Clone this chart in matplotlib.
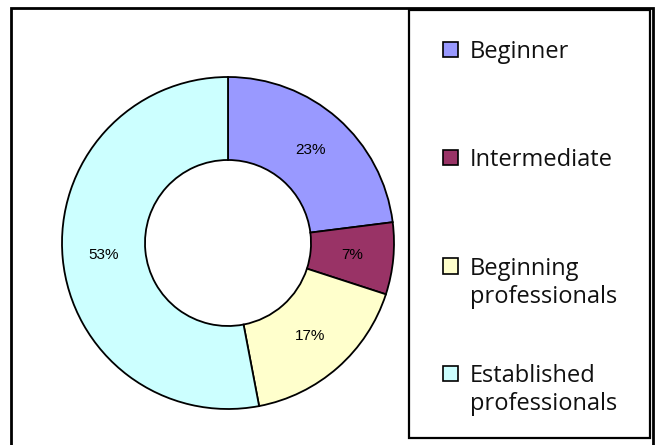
import matplotlib
matplotlib.use("Agg")
import matplotlib.pyplot as plt
from matplotlib.patches import Rectangle
from matplotlib import font_manager

categories = ["Beginner", "Intermediate", "Beginning\nprofessionals", "Established\nprofessionals"]
values = [23, 7, 17, 53]
colors = ["#9999FF", "#993366", "#FFFFCC", "#CCFFFF"]

W, H = 656, 445
fig = plt.figure(figsize=(W / 100, H / 100), dpi=100)
fig.patch.set_facecolor("white")

names = {f.name for f in font_manager.fontManager.ttflist}
if "Liberation Sans Narrow" in names:
    pct_font, pct_size = "Liberation Sans Narrow", 12.5
else:
    pct_font, pct_size = "Liberation Sans", 11
leg_font = "Open Sans" if "Open Sans" in names else "DejaVu Sans"


def fx(x):
    return x / W


def fy(y):
    return 1 - y / H


# outer frame (bottom runs off the image)
fig.add_artist(Rectangle((fx(11), fy(460)), fx(653) - fx(11), fy(8) - fy(460),
                         transform=fig.transFigure, fill=False, edgecolor="black", lw=2))
# legend box
fig.add_artist(Rectangle((fx(409), fy(438)), fx(650) - fx(409), fy(10) - fy(438),
                         transform=fig.transFigure, fill=False, edgecolor="black", lw=1.6))

# donut
cx, cy, R = 228, 243, 166
half = 170
ax = fig.add_axes([fx(cx - half), fy(cy + half), 2 * half / W, 2 * half / H])
ax.set_aspect("equal")
ax.axis("off")
wedges, texts, autotexts = ax.pie(
    values, colors=colors, startangle=90, counterclock=False, radius=1,
    autopct=lambda p: f"{p:.0f}%", pctdistance=0.75,
    wedgeprops=dict(width=0.5, edgecolor="black", linewidth=1.3),
    textprops=dict(fontsize=pct_size, family=pct_font, color="black"))
ax.set_xlim(-half / R, half / R)
ax.set_ylim(-half / R, half / R)

# legend entries (baseline of first line for each entry)
entry_base = [58, 166, 275, 382]
line_gap = 28
for lab, col, yb in zip(categories, colors, entry_base):
    yc = yb - 9
    fig.add_artist(Rectangle((fx(443), fy(yc + 7.5)), fx(458) - fx(443), fy(yc - 7.5) - fy(yc + 7.5),
                             transform=fig.transFigure, facecolor=col, edgecolor="black", lw=1.2))
    for i, line in enumerate(lab.split("\n")):
        fig.text(fx(470), fy(yb + i * line_gap), line, ha="left", va="baseline",
                 fontsize=17, family=leg_font, color="#111111")

fig.savefig("out.png", dpi=100)
